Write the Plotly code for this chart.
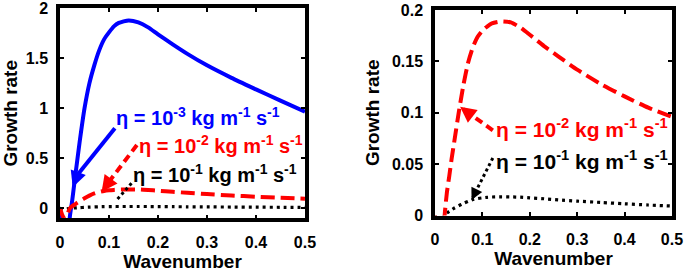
import plotly.graph_objects as go

# ---------------- data ----------------
wavenumber = [0, 0.005, 0.01, 0.015, 0.02, 0.025, 0.03, 0.035, 0.04, 0.05, 0.06, 0.07,
              0.08, 0.09, 0.1, 0.11, 0.12, 0.14, 0.16, 0.18, 0.2, 0.23, 0.26, 0.3,
              0.35, 0.4, 0.45, 0.5]
growth_eta_1e3 = [0.0, -0.7, -1.1, -0.6, -0.09, 0.08, 0.28, 0.47, 0.66, 1.00, 1.25, 1.43,
                  1.58, 1.69, 1.76, 1.82, 1.855, 1.88, 1.86, 1.81, 1.74, 1.64, 1.545, 1.43,
                  1.305, 1.19, 1.077, 0.966]
growth_eta_1e2 = [0.0, -0.07, -0.11, -0.06, -0.002, 0.022, 0.038, 0.055, 0.070, 0.100, 0.127,
                  0.149, 0.164, 0.174, 0.180, 0.184, 0.187, 0.189, 0.188, 0.183, 0.176,
                  0.165, 0.155, 0.142, 0.128, 0.116, 0.105, 0.096]
growth_eta_1e1 = [0.0, -0.007, -0.011, -0.006, 0.0, 0.0025, 0.004, 0.0055, 0.007, 0.0095,
                  0.0118, 0.0138, 0.0155, 0.0165, 0.0172, 0.0177, 0.018, 0.0182, 0.0181,
                  0.0178, 0.0172, 0.0163, 0.0152, 0.014, 0.0127, 0.0114, 0.0102, 0.0092]

x_ticks = [0, 0.1, 0.2, 0.3, 0.4, 0.5]
x_ticktext = ["0", "0.1", "0.2", "0.3", "0.4", "0.5"]
y_left_ticks = [0, 0.5, 1, 1.5, 2]
y_left_ticktext = ["0", "0.5", "1", "1.5", "2"]
y_right_ticks = [0, 0.05, 0.1, 0.15, 0.2]
y_right_ticktext = ["0", "0.05", "0.1", "0.15", "0.2"]

label_1e3 = "η = 10<sup>-3</sup> kg m<sup>-1</sup> s<sup>-1</sup>"
label_1e2 = "η = 10<sup>-2</sup> kg m<sup>-1</sup> s<sup>-1</sup>"
label_1e1 = "η = 10<sup>-1</sup> kg m<sup>-1</sup> s<sup>-1</sup>"

BLUE = "#0000ff"
RED = "#ff0000"
BLACK = "#000000"
FONT = "Liberation Sans"

W, H = 685, 273

fig = go.Figure()

def line(color, width, dash="solid"):
    return dict(color=color, width=width, dash=dash, shape="spline", smoothing=0.6)

# left panel
fig.add_trace(go.Scatter(x=wavenumber, y=growth_eta_1e3, mode="lines",
                         line=line(BLUE, 4), xaxis="x", yaxis="y"))
fig.add_trace(go.Scatter(x=wavenumber, y=growth_eta_1e1, mode="lines",
                         line=line(BLACK, 3.2, "3px,4px"), xaxis="x", yaxis="y"))
fig.add_trace(go.Scatter(x=wavenumber, y=growth_eta_1e2, mode="lines",
                         line=line(RED, 4, "14px,6px"), xaxis="x", yaxis="y"))
# right panel
fig.add_trace(go.Scatter(x=wavenumber, y=growth_eta_1e1, mode="lines",
                         line=line(BLACK, 3.2, "3px,4px"), xaxis="x2", yaxis="y2"))
fig.add_trace(go.Scatter(x=wavenumber, y=growth_eta_1e2, mode="lines",
                         line=line(RED, 4, "14px,6px"), xaxis="x2", yaxis="y2"))

def px_x(a, b):
    return [a / W, b / W]

def px_y(top, bottom):
    return [1 - bottom / H, 1 - top / H]

axis_common = dict(showline=True, linewidth=3.5, linecolor="black", mirror="allticks",
                   ticks="inside", ticklen=4, tickwidth=1.5, tickcolor="black",
                   showgrid=False, zeroline=False, automargin=False,
                   tickfont=dict(family=FONT, size=16, color="black", weight="bold"))
title_font = dict(family=FONT, size=19, color="black", weight="bold")

fig.update_layout(
    width=W, height=H, margin=dict(l=0, r=0, t=0, b=0),
    paper_bgcolor="white", plot_bgcolor="white", showlegend=False,
    xaxis=dict(domain=px_x(60, 305), range=[0, 0.5001], tickvals=x_ticks, ticktext=x_ticktext,
               ticklabelstandoff=7,
               title=dict(text="Wavenumber", font=title_font, standoff=2),
               anchor="y", **axis_common),
    yaxis=dict(domain=px_y(8.3, 218.3), range=[-0.1, 2.001], tickvals=y_left_ticks,
               ticktext=y_left_ticktext, ticklabelstandoff=5,
               title=dict(text="Growth rate", font=title_font, standoff=8),
               anchor="x", **axis_common),
    xaxis2=dict(domain=px_x(435, 672), range=[0, 0.5001], tickvals=x_ticks, ticktext=x_ticktext,
                ticklabelstandoff=7,
                title=dict(text="Wavenumber", font=title_font, standoff=2),
                anchor="y2", **axis_common),
    yaxis2=dict(domain=px_y(10, 215.5), range=[0, 0.2001], tickvals=y_right_ticks,
                ticktext=y_right_ticktext, ticklabelstandoff=5,
                title=dict(text="Growth rate", font=title_font, standoff=8),
                anchor="x2", **axis_common),
)

def add_label(text, x, y, xr, yr, color, size=20):
    fig.add_annotation(text=text, x=x, y=y, xref=xr, yref=yr, xanchor="left",
                       yanchor="middle", showarrow=False, borderpad=0,
                       font=dict(family=FONT, size=size, weight="bold", color=color))

def add_arrow(tail, tip, head_from, xr, yr, color, dash, width, size):
    # shaft
    fig.add_shape(type="line", x0=tail[0], y0=tail[1], x1=head_from[0], y1=head_from[1],
                  xref=xr, yref=yr, line=dict(color=color, width=width, dash=dash))
    # head
    fig.add_annotation(x=tip[0], y=tip[1], ax=head_from[0], ay=head_from[1], xref=xr, yref=yr,
                       axref=xr, ayref=yr, text="", showarrow=True, arrowhead=2,
                       arrowsize=size, arrowwidth=width, arrowcolor=color)

# left panel labels
add_label(label_1e3, 0.112, 0.92, "x", "y", BLUE)
add_label(label_1e2, 0.16, 0.64, "x", "y", RED)
add_label(label_1e1, 0.146, 0.35, "x", "y", BLACK)
add_arrow((0.112, 0.80), (0.026, 0.21), (0.035, 0.33), "x", "y", BLUE, "solid", 4, 0.8)
add_arrow((0.157, 0.633), (0.085, 0.166), (0.096, 0.24), "x", "y", RED, "8px,5px", 4, 0.8)
add_arrow((0.146, 0.25), (0.11, 0.05), (0.116, 0.085), "x", "y", BLACK, "3px,3px", 3, 0.8)

# right panel labels
add_label(label_1e2, 0.127, 0.0855, "x2", "y2", RED, 21)
add_label(label_1e1, 0.127, 0.054, "x2", "y2", BLACK, 21)
add_arrow((0.122, 0.083), (0.053, 0.106), (0.067, 0.101), "x2", "y2", RED, "8px,5px", 4, 0.8)
add_arrow((0.122, 0.056), (0.077, 0.015), (0.084, 0.0215), "x2", "y2", BLACK, "3px,3px", 3, 0.8)

fig.write_html("out.html", config={"displayModeBar": False},
               post_script="document.body.style.margin='0';")
